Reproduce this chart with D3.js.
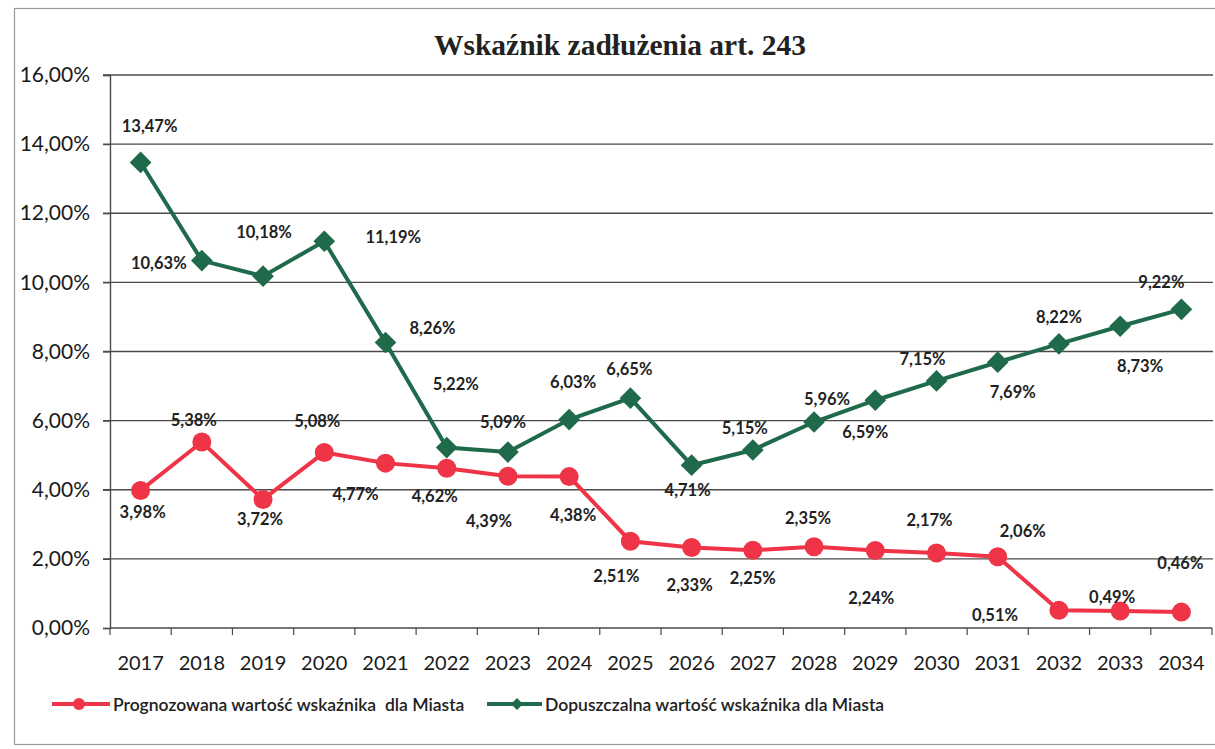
<!DOCTYPE html>
<html>
<head>
<meta charset="utf-8">
<script src="https://cdn.jsdelivr.net/npm/d3@7"></script>
<style>
  html, body { margin: 0; padding: 0; background: #fff; }
  svg { display: block; }
</style>
</head>
<body>
<div id="chart"></div>
<script>
// data
const YEARS = [2017, 2018, 2019, 2020, 2021, 2022, 2023, 2024, 2025,
               2026, 2027, 2028, 2029, 2030, 2031, 2032, 2033, 2034];
const PROGNOZA = [3.98, 5.38, 3.72, 5.08, 4.77, 4.62, 4.39, 4.38, 2.51,
                  2.33, 2.25, 2.35, 2.24, 2.17, 2.06, 0.51, 0.49, 0.46];
const DOPUSZCZALNA = [13.47, 10.63, 10.18, 11.19, 8.26, 5.22, 5.09, 6.03, 6.65,
                      4.71, 5.15, 5.96, 6.59, 7.15, 7.69, 8.22, 8.73, 9.22];
const Y_TICKS = [0, 2, 4, 6, 8, 10, 12, 14, 16];

const TITLE = "Wskaźnik zadłużenia art. 243";
const LEGEND_RED = "Prognozowana wartość wskaźnika  dla Miasta";
const LEGEND_GREEN = "Dopuszczalna wartość wskaźnika dla Miasta";

// label nudges (px) relative to each marker, like the hand-moved labels in the original
const RED_LABEL_OFF = [[2,22],[-8,-22],[-3,20],[-7,-31],[-30,31],[-12,28],[-19,45],[4,38],[-14,35],
                       [-2,38],[0,28],[-6,-29],[-4,47],[-7,-33],[25,-26],[-64,5],[-8,-14],[-1,-49]];
const GREEN_LABEL_OFF = [[9,-36],[-43,2],[1,-44],[69,-4],[47,-15],[9,-64],[-5,-30],[4,-38],[-1,-29],
                         [-4,25],[-8,-22],[13,-23],[-10,32],[-14,-22],[15,30],[0,-27],[20,40],[-20,-27]];

const RED = "#ee3446", GREEN = "#1f6a4b";
const W = 1215, H = 749;
const FONT = "Lato, 'Open Sans', sans-serif";

const svg = d3.select("#chart").append("svg").attr("width", W).attr("height", H);

// scanned page frame
svg.append("rect").attr("x", 14.5).attr("y", 8.5).attr("width", W + 20).attr("height", 736)
  .attr("fill", "none").attr("stroke", "#9a9a9a").attr("stroke-width", 1.2);

const x = d3.scaleBand().domain(YEARS).range([110, 1212]).padding(0);
const y = d3.scaleLinear().domain([0, 16]).range([628, 75]);
const cx = d => x(d) + x.bandwidth() / 2;
const fmt = v => v.toFixed(2).replace(".", ",") + "%";

// gridlines
svg.append("g").selectAll("line").data(Y_TICKS.filter(t => t > 0)).join("line")
  .attr("x1", 103).attr("x2", 1213).attr("y1", d => y(d)).attr("y2", d => y(d))
  .attr("stroke", "#4a4a4a").attr("stroke-width", 1.4);

// y axis
svg.append("g").attr("transform", "translate(110,0)")
  .call(d3.axisLeft(y).tickValues(Y_TICKS).tickSize(7).tickPadding(13).tickFormat(d => fmt(d)))
  .call(ax => {
    ax.select(".domain").attr("stroke", "#4a4a4a").attr("stroke-width", 1.4);
    ax.selectAll("line").attr("stroke", "#4a4a4a").attr("stroke-width", 1.2);
    ax.selectAll("text").style("font-family", FONT).style("font-size", "21px").attr("fill", "#1a1a1a");
  });

// x axis: ticks between categories
const xAx = svg.append("g").attr("transform", "translate(0,628)");
xAx.append("line").attr("x1", 110).attr("x2", 1212).attr("stroke", "#4a4a4a").attr("stroke-width", 1.4);
xAx.selectAll("line.tk").data(YEARS.concat([null])).join("line").attr("class", "tk")
  .attr("x1", (d, i) => i < YEARS.length ? x(d) : x(YEARS[YEARS.length - 1]) + x.bandwidth())
  .attr("x2", (d, i) => i < YEARS.length ? x(d) : x(YEARS[YEARS.length - 1]) + x.bandwidth())
  .attr("y1", 0).attr("y2", 7).attr("stroke", "#4a4a4a").attr("stroke-width", 1.2);
xAx.selectAll("text").data(YEARS).join("text")
  .attr("x", d => cx(d)).attr("y", 42).attr("text-anchor", "middle")
  .style("font-family", FONT).style("font-size", "20px").attr("fill", "#1a1a1a")
  .text(d => d);

// title
svg.append("text").attr("x", 620).attr("y", 55).attr("text-anchor", "middle")
  .style("font-family", "'Liberation Serif', 'Times New Roman', serif")
  .style("font-size", "29.5px").style("font-weight", "bold").attr("fill", "#222")
  .text(TITLE);

const line = d3.line().x(d => cx(d.year)).y(d => y(d.value));
const red = YEARS.map((yr, i) => ({ year: yr, value: PROGNOZA[i] }));
const green = YEARS.map((yr, i) => ({ year: yr, value: DOPUSZCZALNA[i] }));

// green series
svg.append("path").datum(green).attr("d", line).attr("fill", "none")
  .attr("stroke", GREEN).attr("stroke-width", 4);
svg.append("g").selectAll("path").data(green).join("path")
  .attr("d", d3.symbol(d3.symbolDiamond2, 300))
  .attr("transform", d => `translate(${cx(d.year)},${y(d.value)})`)
  .attr("fill", GREEN);

// red series
svg.append("path").datum(red).attr("d", line).attr("fill", "none")
  .attr("stroke", RED).attr("stroke-width", 4);
svg.append("g").selectAll("circle").data(red).join("circle")
  .attr("cx", d => cx(d.year)).attr("cy", d => y(d.value)).attr("r", 9.5)
  .attr("fill", RED);

// data labels
function labels(data, offs) {
  svg.append("g").selectAll("text").data(data).join("text")
    .attr("x", (d, i) => cx(d.year) + offs[i][0])
    .attr("y", (d, i) => y(d.value) + offs[i][1])
    .attr("text-anchor", "middle").attr("dominant-baseline", "central")
    .style("font-family", FONT).style("font-size", "16.5px").style("font-weight", "bold")
    .attr("fill", "#222")
    .text(d => fmt(d.value));
}
labels(green, GREEN_LABEL_OFF);
labels(red, RED_LABEL_OFF);

// legend
const lg = svg.append("g").attr("transform", "translate(0,704)");
lg.append("line").attr("x1", 52).attr("x2", 110).attr("stroke", RED).attr("stroke-width", 4);
lg.append("circle").attr("cx", 79).attr("r", 6).attr("fill", RED);
lg.append("text").attr("x", 113).attr("dominant-baseline", "central")
  .style("font-family", FONT).style("font-size", "17.5px").style("font-weight", "600")
  .style("white-space", "pre").attr("fill", "#222").text(LEGEND_RED);
lg.append("line").attr("x1", 487).attr("x2", 542).attr("stroke", GREEN).attr("stroke-width", 4);
lg.append("path").attr("d", d3.symbol(d3.symbolDiamond2, 90)).attr("transform", "translate(517,0)").attr("fill", GREEN);
lg.append("text").attr("x", 545).attr("dominant-baseline", "central")
  .style("font-family", FONT).style("font-size", "17.5px").style("font-weight", "600")
  .attr("fill", "#222").text(LEGEND_GREEN);
</script>
</body>
</html>
